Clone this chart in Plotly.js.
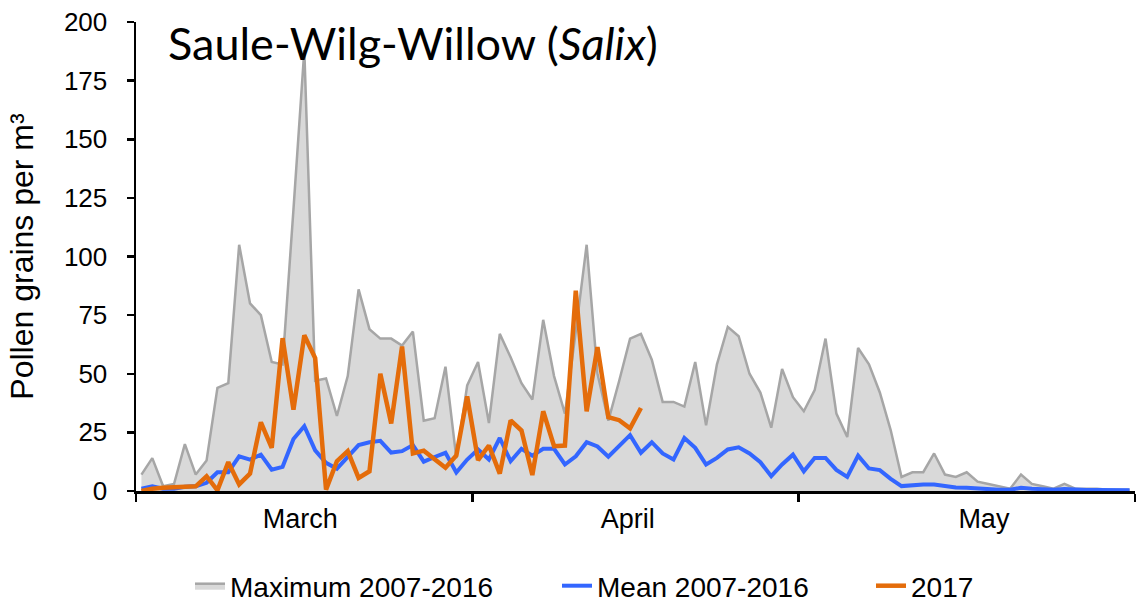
<!DOCTYPE html>
<html>
<head>
<meta charset="utf-8">
<script src="https://cdn.plot.ly/plotly-3.0.1.min.js"></script>
<style>
  html, body { margin: 0; padding: 0; background: #fff; }
  #chart { width: 1140px; height: 602px; }
</style>
</head>
<body>
<div id="chart"></div>
<script>
// Daily values, 1 March to 31 May
const startDate = '2017-03-01';
const seriesNames = ['Maximum 2007-2016', 'Mean 2007-2016', '2017'];
const monthLabels = ['March', 'April', 'May'];
const monthStarts = ['2017-03-01', '2017-04-01', '2017-05-01', '2017-06-01'];

const maxVals = [
  7, 14, 2, 3, 20, 7, 13, 44, 46, 105,
  80, 75, 55, 54, 120, 188, 47, 48, 32, 49,
  86, 69, 65, 65, 62, 68, 30, 31, 53, 14,
  45, 55, 29, 67, 57, 46, 39, 73, 49, 33,
  68, 105, 50, 30, 47, 65, 67, 56, 38, 38,
  36, 55, 28, 54, 70, 66, 50, 42, 27, 52,
  40, 34, 43, 65, 33, 23, 61, 54, 42, 26,
  6, 8, 8, 16, 7, 6, 8, 4, 3, 2,
  1, 7, 3, 2, 1, 3, 1, 1, 1, 0.5,
  0.5, 0.5
];

const meanVals = [
  1, 2, 1, 1, 1.8, 2, 3.5, 8, 8, 14.8,
  13.4, 15.5, 9.1, 10.3, 22.2, 27.6, 17.3, 12, 9.5, 14.5,
  19.6, 20.8, 21.4, 16.4, 17, 19.6, 12.5, 14.5, 16.3, 7.9,
  13.4, 17.7, 13.4, 22.6, 12.7, 18, 15.1, 18, 18, 11.3,
  14.8, 20.8, 19, 14.6, 19, 23.8, 16.3, 20.8, 16, 13.4,
  22.6, 18.4, 11.3, 14.1, 17.7, 18.6, 16, 12.3, 6.3, 11.3,
  15.5, 8.4, 14.1, 14.1, 9, 6, 15.1, 9.6, 8.9, 5.2,
  2.1, 2.6, 2.8, 2.8, 2, 1.5, 1.4, 1, 0.6, 0.5,
  0.5, 1.4, 1, 0.6, 0.5, 0.8, 0.4, 0.4, 0.4, 0.3,
  0.3, 0.3
];

const vals2017 = [
  0, 1, 1.4, 1.6, 1.8, 2, 6.3, 0.3, 12.3, 2.8,
  7.4, 29.3, 18.4, 65.2, 34.7, 66.4, 56.7, 0.6, 12.7, 17,
  5.6, 8.4, 50, 28.8, 61.6, 16, 17.2, 13.4, 9.9, 15.2,
  40.3, 13.2, 19.4, 7.4, 30.1, 25.8, 6.8, 34, 19.1, 19.4,
  85.4, 34, 61.4, 31.5, 30.2, 26.7, 35.4
];

// where the month names sit along the axis (layout only)
const monthLabelAt = ['2017-03-16 03:00', '2017-04-15 07:00', '2017-05-18 02:00'];

// build the day categories (noon of each day)
function buildDays(start, n) {
  const out = [];
  const d0 = new Date(start + 'T12:00:00Z');
  for (let i = 0; i < n; i++) {
    const d = new Date(d0.getTime() + i * 86400000);
    out.push(d.toISOString().slice(0, 10) + ' 12:00');
  }
  return out;
}
const days = buildDays(startDate, maxVals.length);

const traces = [
  {
    x: days, y: maxVals, name: seriesNames[0], type: 'scatter', mode: 'lines',
    fill: 'tozeroy', fillcolor: '#d9d9d9',
    line: { color: '#a6a6a6', width: 2.5 },
    legend: 'legend'
  },
  {
    x: days, y: meanVals, name: seriesNames[1], type: 'scatter', mode: 'lines',
    line: { color: '#3366ff', width: 4 },
    legend: 'legend2'
  },
  {
    x: days.slice(0, vals2017.length), y: vals2017, name: seriesNames[2], type: 'scatter', mode: 'lines',
    line: { color: '#e46c0a', width: 4.5 },
    legend: 'legend3'
  }
];

const legendFont = { size: 28, family: '"Liberation Sans", Arial, sans-serif', color: '#000' };
function legendAt(px) {
  return {
    orientation: 'h', xref: 'container', yref: 'container',
    x: px / 1140, xanchor: 'left', y: 1 - 586 / 602, yanchor: 'middle',
    font: legendFont, bgcolor: 'rgba(0,0,0,0)', borderwidth: 0
  };
}

const layout = {
  width: 1140, height: 602,
  margin: { l: 136, r: 5, t: 22, b: 111, autoexpand: false },
  paper_bgcolor: '#fff', plot_bgcolor: '#fff',
  font: { family: '"Liberation Sans", Arial, sans-serif', color: '#000' },
  title: {
    text: 'Saule-Wilg-Willow (<i>Salix</i>)',
    font: { family: 'Lato, "Open Sans", sans-serif', size: 45, color: '#000' },
    xref: 'paper', x: 0.032, xanchor: 'left',
    yref: 'container', y: 1 - 44 / 602, yanchor: 'middle'
  },
  showlegend: true,
  legend: legendAt(190),
  legend2: legendAt(557),
  legend3: legendAt(871),
  xaxis: {
    type: 'date',
    range: [monthStarts[0], monthStarts[monthStarts.length - 1]],
    tickmode: 'array', tickvals: monthLabelAt, ticktext: monthLabels,
    showline: true, linecolor: '#000', linewidth: 2.5,
    ticks: 'outside', ticklen: 8, tickwidth: 0, tickcolor: 'rgba(0,0,0,0)',
    ticklabelstandoff: -6,
    minor: {
      tickmode: 'array', tickvals: monthStarts,
      ticks: 'outside', ticklen: 8, tickwidth: 2.5, tickcolor: '#000', showgrid: false
    },
    showgrid: false, zeroline: false,
    tickfont: { size: 27 }
  },
  yaxis: {
    range: [0, 200], dtick: 25, tick0: 0,
    showline: true, linecolor: '#000', linewidth: 2.5,
    ticks: 'outside', ticklen: 7, tickwidth: 2.5, tickcolor: '#000',
    ticklabelstandoff: 14,
    showgrid: false, zeroline: false,
    tickfont: { size: 26 },
    title: { text: 'Pollen grains per m³', font: { size: 32 }, standoff: 21 }
  }
};

Plotly.newPlot('chart', traces, layout, { displayModeBar: false, staticPlot: true });
</script>
</body>
</html>
